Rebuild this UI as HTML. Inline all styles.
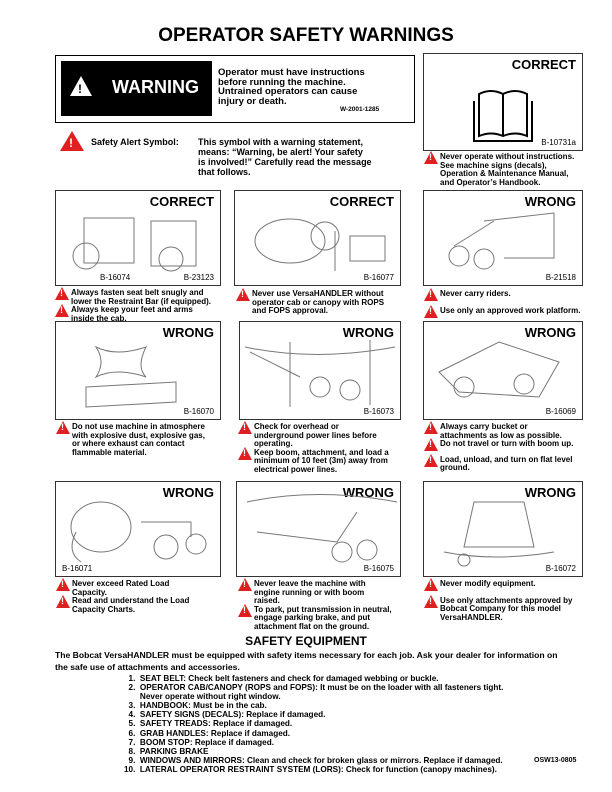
<!DOCTYPE html>
<html><head><meta charset="utf-8"><style>
body{margin:0;width:612px;height:792px;background:#fff;position:relative;font-family:"Liberation Sans",sans-serif;font-weight:bold;color:#000;overflow:hidden}
.a{position:absolute}
.box{position:absolute;border:1.5px solid #333;box-sizing:border-box;background:#fff}
.lbl{position:absolute;right:6px;top:3px;font-size:13px}
.code{position:absolute;right:6px;bottom:3px;font-size:8px;font-weight:normal}
.t{position:absolute;font-size:8px;line-height:8.6px}
.tri{display:inline-block;width:0;height:0;border-left:7px solid transparent;border-right:7px solid transparent;border-bottom:13px solid #e02020;position:absolute;left:0}
.tri:after{content:"!";position:absolute;left:-2px;top:2px;color:#fff;font-size:9px}
.w{position:relative;padding-left:16px}
.w .tri{top:-2px}
svg{position:absolute}
</style></head><body>
<div class="a" style="left:0;width:612px;top:25px;text-align:center;font-size:19px">OPERATOR SAFETY WARNINGS</div>

<div class="a" style="left:55px;top:55px;width:360px;height:68px;border:1.5px solid #000;box-sizing:border-box"></div>
<div class="a" style="left:61px;top:61px;width:151px;height:55px;background:#000"></div>
<div class="a" style="left:70px;top:76px;width:0;height:0;border-left:11px solid transparent;border-right:11px solid transparent;border-bottom:20px solid #fff"></div>
<div class="a" style="left:78px;top:82px;color:#000;font-size:12px">!</div>
<div class="a" style="left:112px;top:77px;color:#fff;font-size:18px">WARNING</div>
<div class="a" style="left:218px;top:68px;font-size:9.5px;line-height:9.5px">Operator must have instructions<br>before running the machine.<br>Untrained operators can cause<br>injury or death.</div>
<div class="a" style="left:340px;top:106px;font-size:6.5px">W-2001-1285</div>

<div class="a" style="left:60px;top:131px;width:0;height:0;border-left:12px solid transparent;border-right:12px solid transparent;border-bottom:20px solid #e02020"></div>
<div class="a" style="left:69px;top:136px;color:#fff;font-size:12px">!</div>
<div class="a" style="left:91px;top:137px;font-size:9px">Safety Alert Symbol:</div>
<div class="a" style="left:198px;top:137px;font-size:9px;line-height:10px">This symbol with a warning statement,<br>means: “Warning, be alert! Your safety<br>is involved!” Carefully read the message<br>that follows.</div>

<div class="box" style="left:423px;top:53px;width:160px;height:98px"><div class="lbl">CORRECT</div><div class="code">B-10731a</div>
<svg width="160" height="98"><path d="M55 40 q12-6 24 0 q12-6 24 0 v42 q-12-5-24 0 q-12-5-24 0z M79 40v42 M50 47v40 h58 v-40" fill="none" stroke="#000" stroke-width="2"/></svg></div>
<div class="t" style="left:424px;top:153px"><div class="w"><span class="tri"></span>Never operate without instructions.<br>See machine signs (decals),<br>Operation &amp; Maintenance Manual,<br>and Operator’s Handbook.</div></div>

<div class="box" style="left:55px;top:190px;width:166px;height:96px"><div class="lbl">CORRECT</div><div class="a" style="left:44px;bottom:3px;font-size:8px;font-weight:normal">B-16074</div><div class="code">B-23123</div>
<svg width="166" height="96"><g fill="none" stroke="#777"><circle cx="30" cy="65" r="13"/><rect x="28" y="27" width="50" height="45"/><rect x="95" y="30" width="45" height="45"/><circle cx="115" cy="68" r="12"/></g></svg></div>
<div class="t" style="left:55px;top:289px"><div class="w"><span class="tri"></span>Always fasten seat belt snugly and<br>lower the Restraint Bar (if equipped).</div><div class="w"><span class="tri"></span>Always keep your feet and arms<br>inside the cab.</div></div>

<div class="box" style="left:234px;top:190px;width:167px;height:96px"><div class="lbl">CORRECT</div><div class="code">B-16077</div>
<svg width="167" height="96"><g fill="none" stroke="#777"><ellipse cx="55" cy="50" rx="35" ry="22"/><circle cx="90" cy="45" r="14"/><rect x="115" y="45" width="35" height="25"/><path d="M100 40v40"/></g></svg></div>
<div class="t" style="left:236px;top:290px"><div class="w"><span class="tri"></span>Never use VersaHANDLER without<br>operator cab or canopy with ROPS<br>and FOPS approval.</div></div>

<div class="box" style="left:423px;top:190px;width:160px;height:96px"><div class="lbl">WRONG</div><div class="code">B-21518</div>
<svg width="160" height="96"><g fill="none" stroke="#777"><path d="M60 30l70-8v45H80"/><circle cx="35" cy="65" r="10"/><circle cx="60" cy="68" r="10"/><path d="M30 55l40-25"/></g></svg></div>
<div class="t" style="left:424px;top:290px"><div class="w"><span class="tri"></span>Never carry riders.</div><div class="w" style="margin-top:8px"><span class="tri"></span>Use only an approved work platform.</div></div>

<div class="box" style="left:55px;top:321px;width:166px;height:99px"><div class="lbl">WRONG</div><div class="code">B-16070</div>
<svg width="166" height="99"><g fill="none" stroke="#777"><path d="M40 25q20 10 50 0q-10 20 0 30q-30-10-50 0q10-15 0-30z"/><path d="M30 65l90-5v20l-90 5z"/></g></svg></div>
<div class="t" style="left:56px;top:423px"><div class="w"><span class="tri"></span>Do not use machine in atmosphere<br>with explosive dust, explosive gas,<br>or where exhaust can contact<br>flammable material.</div></div>

<div class="box" style="left:239px;top:321px;width:162px;height:99px"><div class="lbl">WRONG</div><div class="code">B-16073</div>
<svg width="162" height="99"><g fill="none" stroke="#777"><path d="M5 25q70 15 150 0"/><path d="M50 20v65 M130 18v65"/><circle cx="80" cy="65" r="10"/><circle cx="110" cy="68" r="10"/><path d="M10 30l50 25"/></g></svg></div>
<div class="t" style="left:238px;top:423px"><div class="w"><span class="tri"></span>Check for overhead or<br>underground power lines before<br>operating.</div><div class="w"><span class="tri"></span>Keep boom, attachment, and load a<br>minimum of 10 feet (3m) away from<br>electrical power lines.</div></div>

<div class="box" style="left:423px;top:321px;width:160px;height:99px"><div class="lbl">WRONG</div><div class="code">B-16069</div>
<svg width="160" height="99"><g fill="none" stroke="#777"><path d="M15 50l60-30 60 20-20 35-80-5z"/><circle cx="40" cy="65" r="10"/><circle cx="100" cy="62" r="10"/></g></svg></div>
<div class="t" style="left:424px;top:423px"><div class="w"><span class="tri"></span>Always carry bucket or<br>attachments as low as possible.</div><div class="w"><span class="tri"></span>Do not travel or turn with boom up.</div><div class="w" style="margin-top:7px"><span class="tri"></span>Load, unload, and turn on flat level<br>ground.</div></div>

<div class="box" style="left:55px;top:481px;width:166px;height:96px"><div class="lbl">WRONG</div><div class="code" style="left:6px;right:auto">B-16071</div>
<svg width="166" height="96"><g fill="none" stroke="#777"><ellipse cx="45" cy="45" rx="30" ry="25"/><path d="M20 50q-10 20 5 30"/><circle cx="110" cy="65" r="12"/><circle cx="140" cy="62" r="10"/><path d="M85 40h50v15"/></g></svg></div>
<div class="t" style="left:56px;top:580px"><div class="w"><span class="tri"></span>Never exceed Rated Load<br>Capacity.</div><div class="w"><span class="tri"></span>Read and understand the Load<br>Capacity Charts.</div></div>

<div class="box" style="left:236px;top:481px;width:165px;height:96px"><div class="lbl">WRONG</div><div class="code">B-16075</div>
<svg width="165" height="96"><g fill="none" stroke="#777"><path d="M10 20q70-15 150 0"/><path d="M20 50l80 10 20-30"/><circle cx="105" cy="70" r="10"/><circle cx="130" cy="68" r="10"/></g></svg></div>
<div class="t" style="left:238px;top:580px"><div class="w"><span class="tri"></span>Never leave the machine with<br>engine running or with boom<br>raised.</div><div class="w"><span class="tri"></span>To park, put transmission in neutral,<br>engage parking brake, and put<br>attachment flat on the ground.</div></div>

<div class="box" style="left:423px;top:481px;width:160px;height:96px"><div class="lbl">WRONG</div><div class="code">B-16072</div>
<svg width="160" height="96"><g fill="none" stroke="#777"><path d="M50 20h50l10 45H40z"/><path d="M20 70q50 10 110 0"/><circle cx="40" cy="78" r="6"/></g></svg></div>
<div class="t" style="left:424px;top:580px"><div class="w"><span class="tri"></span>Never modify equipment.</div><div class="w" style="margin-top:8px"><span class="tri"></span>Use only attachments approved by<br>Bobcat Company for this model<br>VersaHANDLER.</div></div>

<div class="a" style="left:0;width:612px;top:634px;text-align:center;font-size:12px">SAFETY EQUIPMENT</div>
<div class="a" style="left:55px;top:649px;font-size:8.6px;line-height:12px;width:550px">The Bobcat VersaHANDLER must be equipped with safety items necessary for each job. Ask your dealer for information on<br>the safe use of attachments and accessories.</div>
<div class="a" style="left:124px;top:674px;font-size:8.2px;line-height:9.1px;white-space:pre">  1.  SEAT BELT: Check belt fasteners and check for damaged webbing or buckle.
  2.  OPERATOR CAB/CANOPY (ROPS and FOPS): It must be on the loader with all fasteners tight.
       Never operate without right window.
  3.  HANDBOOK: Must be in the cab.
  4.  SAFETY SIGNS (DECALS): Replace if damaged.
  5.  SAFETY TREADS: Replace if damaged.
  6.  GRAB HANDLES: Replace if damaged.
  7.  BOOM STOP: Replace if damaged.
  8.  PARKING BRAKE
  9.  WINDOWS AND MIRRORS: Clean and check for broken glass or mirrors. Replace if damaged.
10.  LATERAL OPERATOR RESTRAINT SYSTEM (LORS): Check for function (canopy machines).</div>
<div class="a" style="left:534px;top:757px;font-size:7px">OSW13-0805</div>
</body></html>
